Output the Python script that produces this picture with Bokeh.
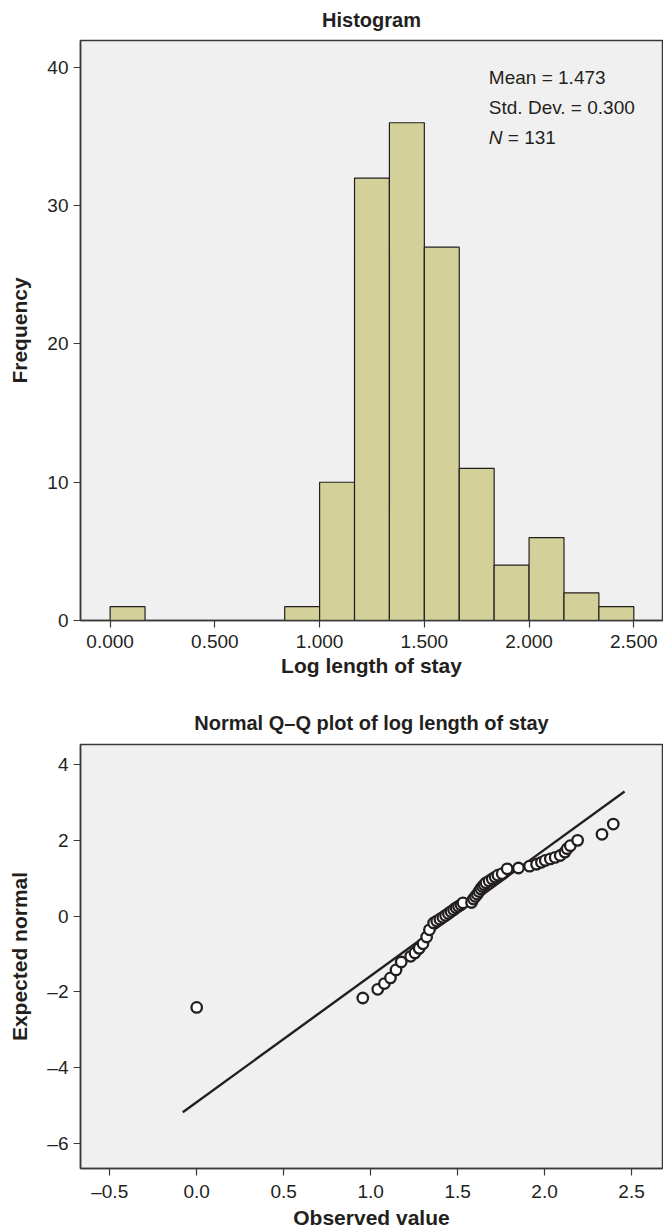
from bokeh.plotting import figure
from bokeh.layouts import column
from bokeh.models import Label, FixedTicker, ColumnDataSource, Range1d
from bokeh.embed import file_html
from bokeh.resources import INLINE

# ---------------- data ----------------
bin_left = [0.0, 0.8333, 1.0, 1.1667, 1.3333, 1.5, 1.6667, 1.8333, 2.0, 2.1667, 2.3333]
bin_right = [0.1667, 1.0, 1.1667, 1.3333, 1.5, 1.6667, 1.8333, 2.0, 2.1667, 2.3333, 2.5]
bin_count = [1, 1, 10, 32, 36, 27, 11, 4, 6, 2, 1]

hist_xticks = [0.0, 0.5, 1.0, 1.5, 2.0, 2.5]
hist_yticks = [0, 10, 20, 30, 40]

mean_val = 1.473
sd_val = 0.300
n_val = 131

qq_observed = [0.000, 0.955, 1.041, 1.079, 1.114, 1.146, 1.176, 1.230, 1.255, 1.279,
               1.301, 1.322, 1.338, 1.362, 1.380, 1.398, 1.415, 1.431, 1.447, 1.462,
               1.477, 1.491, 1.505, 1.519, 1.531, 1.580, 1.591, 1.602, 1.613, 1.623,
               1.633, 1.643, 1.653, 1.663, 1.681, 1.699, 1.716, 1.732, 1.756, 1.785,
               1.850, 1.914, 1.954, 1.982, 2.004, 2.033, 2.061, 2.090, 2.117, 2.130,
               2.148, 2.190, 2.330, 2.395]
qq_expected = [-2.41, -2.16, -1.93, -1.78, -1.63, -1.42, -1.21, -1.06, -0.97, -0.85,
               -0.73, -0.55, -0.36, -0.18, -0.13, -0.08, -0.03, 0.02, 0.07, 0.12,
               0.17, 0.22, 0.26, 0.30, 0.35, 0.36, 0.45, 0.52, 0.58, 0.65,
               0.72, 0.78, 0.83, 0.88, 0.93, 0.98, 1.03, 1.08, 1.12, 1.25,
               1.27, 1.32, 1.37, 1.42, 1.47, 1.51, 1.55, 1.60, 1.69, 1.78,
               1.86, 2.00, 2.16, 2.43]
line_x = [-0.08, 2.46]

qq_xticks = [-0.5, 0.0, 0.5, 1.0, 1.5, 2.0, 2.5]
qq_yticks = [-6, -4, -2, 0, 2, 4]

hist_title = "Histogram"
qq_title = "Normal Q\u2013Q plot of log length of stay"

# ---------------- style ----------------
FONT = "Liberation Sans"
TXT = "#231f20"
BG = "#f0f0f0"
BAR = "#d4d09a"
TICK_FS = "19px"
LABEL_FS = "21px"
TITLE_FS = "20px"


def style(p, xlabel, ylabel):
    p.background_fill_color = BG
    p.border_fill_color = "white"
    p.outline_line_color = "#3a3a3a"
    p.outline_line_width = 1.5
    p.xgrid.visible = False
    p.ygrid.visible = False
    p.title.text_font = FONT
    p.title.text_font_size = TITLE_FS
    p.title.text_font_style = "bold"
    p.title.text_color = TXT
    p.title.align = "center"
    for ax in (p.xaxis[0], p.yaxis[0]):
        ax.axis_label_text_font = FONT
        ax.axis_label_text_font_size = LABEL_FS
        ax.axis_label_text_font_style = "bold"
        ax.axis_label_text_color = TXT
        ax.major_label_text_font = FONT
        ax.major_label_text_font_size = TICK_FS
        ax.major_label_text_color = TXT
        ax.major_tick_out = 7
        ax.major_tick_in = 0
        ax.minor_tick_out = 0
        ax.minor_tick_in = 0
        ax.major_tick_line_color = "#3a3a3a"
        ax.major_tick_line_width = 1.2
        ax.axis_line_color = "#3a3a3a"
        ax.axis_line_width = 1.5
        ax.major_label_standoff = 5
    p.xaxis[0].axis_label = xlabel
    p.yaxis[0].axis_label = ylabel
    p.yaxis[0].axis_label_standoff = 13


def fmt(v, nd):
    s = f"{abs(v):.{nd}f}"
    return ("\u2013" + s) if v < 0 else s


# ---------------- histogram ----------------
p1 = figure(frame_width=582, frame_height=580, output_backend="svg", toolbar_location=None,
            x_range=Range1d(-0.1415, 2.637), y_range=Range1d(0, 41.95),
            min_border_left=80, min_border_right=1, min_border_top=40, min_border_bottom=70,
            title=hist_title)
style(p1, "Log length of stay", "Frequency")
p1.title.vertical_align = "top"
p1.title.standoff = 15
p1.xaxis[0].major_label_standoff = 7
p1.xaxis[0].axis_label_standoff = 3
src = ColumnDataSource(dict(left=bin_left, right=bin_right, top=bin_count,
                            bottom=[0] * len(bin_count)))
p1.quad(left="left", right="right", top="top", bottom="bottom", source=src,
        fill_color=BAR, line_color="#231f20", line_width=1.2)
p1.xaxis[0].ticker = FixedTicker(ticks=hist_xticks)
p1.xaxis[0].major_label_overrides = {t: fmt(t, 3) for t in hist_xticks}
p1.yaxis[0].ticker = FixedTicker(ticks=hist_yticks)

ann_x = 1.808
p1.add_layout(Label(x=ann_x, y=39.3, text=f"Mean = {mean_val:.3f}", text_font=FONT,
                    text_font_size=TICK_FS, text_color=TXT, text_baseline="middle"))
p1.add_layout(Label(x=ann_x, y=37.1, text=f"Std. Dev. = {sd_val:.3f}", text_font=FONT,
                    text_font_size=TICK_FS, text_color=TXT, text_baseline="middle"))
p1.add_layout(Label(x=ann_x, y=34.9, text="N", text_font=FONT, text_font_style="italic",
                    text_font_size=TICK_FS, text_color=TXT, text_baseline="middle"))
p1.add_layout(Label(x=ann_x, y=34.9, x_offset=19, text=f"= {n_val}", text_font=FONT,
                    text_font_size=TICK_FS, text_color=TXT, text_baseline="middle"))

# ---------------- Q-Q plot ----------------
p2 = figure(frame_width=582, frame_height=424, output_backend="svg", toolbar_location=None,
            x_range=Range1d(-0.668, 2.678), y_range=Range1d(-6.66, 4.53),
            min_border_left=80, min_border_right=1, min_border_top=54, min_border_bottom=59,
            title=qq_title)
style(p2, "Observed value", "Expected normal")
p2.title.standoff = 22
p2.xaxis[0].major_label_standoff = 5
p2.xaxis[0].axis_label_standoff = 1
line_y = [(x - mean_val) / sd_val for x in line_x]
p2.line(line_x, line_y, line_color="#231f20", line_width=2.4)
p2.scatter(qq_observed, qq_expected, marker="circle", size=10.5, fill_color="white",
           line_color="#231f20", line_width=2.3)
p2.xaxis[0].ticker = FixedTicker(ticks=qq_xticks)
p2.xaxis[0].major_label_overrides = {t: fmt(t, 1) for t in qq_xticks}
p2.yaxis[0].ticker = FixedTicker(ticks=qq_yticks)
p2.yaxis[0].major_label_overrides = {t: fmt(t, 0) for t in qq_yticks}

layout = column(p1, p2, spacing=0)
open("out.html", "w").write(file_html(layout, INLINE))
